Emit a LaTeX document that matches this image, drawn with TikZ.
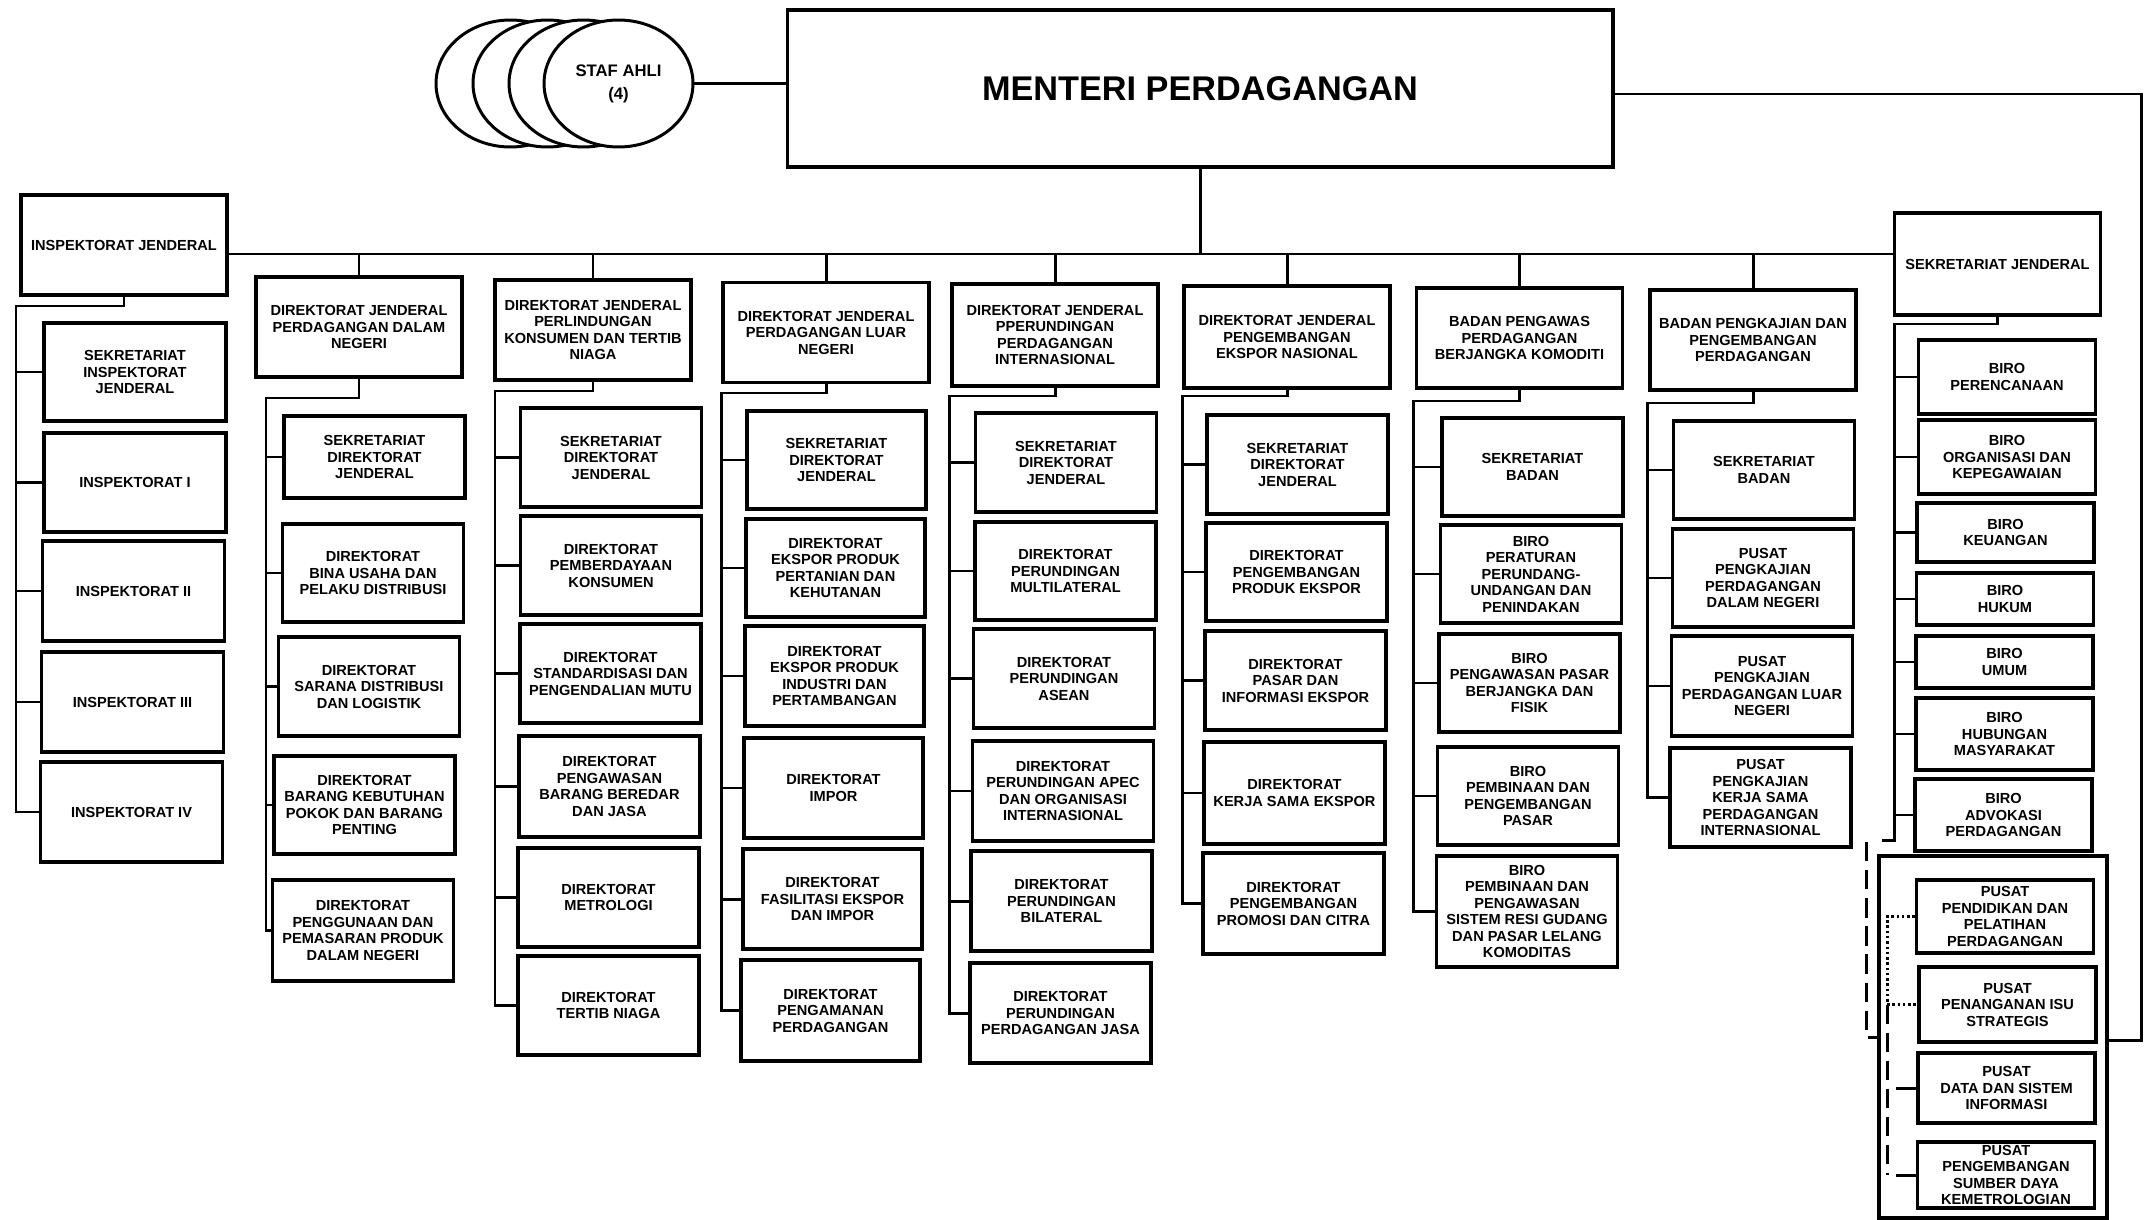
\documentclass[tikz,border=0pt]{standalone}
\usepackage{fontspec}
\setmainfont{Liberation Sans}
\usetikzlibrary{shapes.geometric}

\begin{document}
\begin{tikzpicture}[x=0.02cm, y=-0.02cm]

\tikzstyle{unit}=[rectangle, draw=black, line width=1.8pt, align=center, inner sep=1pt, minimum width=3.62cm, minimum height=1.98cm, font=\bfseries\fontsize{8.3}{9.4}\selectfont]
\tikzstyle{hdr}=[unit, minimum width=4.12cm, minimum height=2cm]
\tikzstyle{biro}=[unit, minimum width=3.54cm]
\tikzstyle{staf}=[ellipse, draw=black, fill=white, line width=1.7pt, minimum width=2.98cm, minimum height=2.54cm, inner sep=0pt, align=center, font=\bfseries\fontsize{9.5}{13}\selectfont]
\tikzstyle{link}=[line width=1.7pt]
\tikzstyle{coord}=[line width=1.7pt, dash pattern=on 11pt off 5pt]
\tikzstyle{dots}=[line width=1.7pt, dash pattern=on 1.4pt off 1.6pt]

\useasboundingbox[fill=white] (0,0) rectangle (2151,1220);

\node[unit, minimum width=16.52cm, minimum height=3.14cm, font=\bfseries\fontsize{19.5}{22}\selectfont] (menteri) at (1200,88.5) {MENTERI PERDAGANGAN};

\node[staf] (staf1) at (510.5,83.5) {};
\node[staf] (staf2) at (547.5,83.5) {};
\node[staf] (staf3) at (583.5,83.5) {};
\node[staf] (staf4) at (618.5,83.5) {STAF AHLI\\(4)};

\node[hdr] (ij) at (124,245) {INSPEKTORAT JENDERAL};
\node[unit, minimum width=3.64cm, minimum height=1.96cm] (ij1) at (135,372) {SEKRETARIAT\\INSPEKTORAT\\JENDERAL};
\node[unit, minimum width=3.64cm] (ij2) at (135,482.5) {INSPEKTORAT I};
\node[unit, minimum width=3.64cm, minimum height=2cm] (ij3) at (133.5,591) {INSPEKTORAT II};
\node[unit, minimum width=3.64cm, minimum height=2cm] (ij4) at (132.5,702) {INSPEKTORAT III};
\node[unit, minimum width=3.64cm, minimum height=2cm] (ij5) at (131.5,812) {INSPEKTORAT IV};

\node[hdr] (dn) at (359,327) {DIREKTORAT JENDERAL\\PERDAGANGAN DALAM\\NEGERI};
\node[unit, minimum height=1.64cm] (dn1) at (374.5,457) {SEKRETARIAT\\DIREKTORAT\\JENDERAL};
\node[unit, minimum height=1.96cm] (dn2) at (373,573) {DIREKTORAT\\BINA USAHA DAN\\PELAKU DISTRIBUSI};
\node[unit] (dn3) at (369,686.5) {DIREKTORAT\\SARANA DISTRIBUSI\\DAN LOGISTIK};
\node[unit, minimum height=1.96cm] (dn4) at (364.5,805) {DIREKTORAT\\BARANG KEBUTUHAN\\POKOK DAN BARANG\\PENTING};
\node[unit, minimum height=2.02cm] (dn5) at (363,930.5) {DIREKTORAT\\PENGGUNAAN DAN\\PEMASARAN PRODUK\\DALAM NEGERI};

\node[hdr, minimum width=3.92cm] (pk) at (593,330) {DIREKTORAT JENDERAL\\PERLINDUNGAN\\KONSUMEN DAN TERTIB\\NIAGA};
\node[unit] (pk1) at (611,457.5) {SEKRETARIAT\\DIREKTORAT\\JENDERAL};
\node[unit] (pk2) at (611,565.5) {DIREKTORAT\\PEMBERDAYAAN\\KONSUMEN};
\node[unit] (pk3) at (610.5,673.5) {DIREKTORAT\\STANDARDISASI DAN\\PENGENDALIAN MUTU};
\node[unit, minimum height=2.02cm] (pk4) at (609.5,786.5) {DIREKTORAT\\PENGAWASAN\\BARANG BEREDAR\\DAN JASA};
\node[unit] (pk5) at (608.5,897.5) {DIREKTORAT\\METROLOGI};
\node[unit] (pk6) at (608.5,1005.5) {DIREKTORAT\\TERTIB NIAGA};

\node[hdr] (pl) at (826,332.5) {DIREKTORAT JENDERAL\\PERDAGANGAN LUAR\\NEGERI};
\node[unit, minimum width=3.58cm, minimum height=1.96cm] (pl1) at (836.5,460) {SEKRETARIAT\\DIREKTORAT\\JENDERAL};
\node[unit, minimum width=3.58cm, minimum height=1.96cm] (pl2) at (835.5,568) {DIREKTORAT\\EKSPOR PRODUK\\PERTANIAN DAN\\KEHUTANAN};
\node[unit, minimum width=3.58cm, minimum height=2cm] (pl3) at (834.5,676) {DIREKTORAT\\EKSPOR PRODUK\\INDUSTRI DAN\\PERTAMBANGAN};
\node[unit, minimum width=3.58cm, minimum height=2cm] (pl4) at (833.5,788) {DIREKTORAT\\IMPOR};
\node[unit, minimum width=3.58cm, minimum height=2cm] (pl5) at (832.5,899) {DIREKTORAT\\FASILITASI EKSPOR\\DAN IMPOR};
\node[unit, minimum width=3.58cm, minimum height=2.02cm] (pl6) at (830.5,1010.5) {DIREKTORAT\\PENGAMANAN\\PERDAGANGAN};

\node[hdr, minimum height=2.04cm] (pp) at (1055,335) {DIREKTORAT JENDERAL\\PPERUNDINGAN\\PERDAGANGAN\\INTERNASIONAL};
\node[unit] (pp1) at (1066,462.5) {SEKRETARIAT\\DIREKTORAT\\JENDERAL};
\node[unit, minimum height=1.96cm] (pp2) at (1065.5,571) {DIREKTORAT\\PERUNDINGAN\\MULTILATERAL};
\node[unit] (pp3) at (1064,678.5) {DIREKTORAT\\PERUNDINGAN\\ASEAN};
\node[unit, minimum height=2cm] (pp4) at (1063,791) {DIREKTORAT\\PERUNDINGAN APEC\\DAN ORGANISASI\\INTERNASIONAL};
\node[unit, minimum height=2cm] (pp5) at (1061.5,901) {DIREKTORAT\\PERUNDINGAN\\BILATERAL};
\node[unit, minimum height=2cm] (pp6) at (1060.5,1013) {DIREKTORAT\\PERUNDINGAN\\PERDAGANGAN JASA};

\node[hdr, minimum height=2.04cm] (pn) at (1287,337) {DIREKTORAT JENDERAL\\PENGEMBANGAN\\EKSPOR NASIONAL};
\node[unit] (pn1) at (1297.5,464.5) {SEKRETARIAT\\DIREKTORAT\\JENDERAL};
\node[unit, minimum height=1.96cm] (pn2) at (1296.5,572) {DIREKTORAT\\PENGEMBANGAN\\PRODUK EKSPOR};
\node[unit] (pn3) at (1295.5,680.5) {DIREKTORAT\\PASAR DAN\\INFORMASI EKSPOR};
\node[unit, minimum height=2.04cm] (pn4) at (1294.5,793) {DIREKTORAT\\KERJA SAMA EKSPOR};
\node[unit, minimum height=2.02cm] (pn5) at (1293.5,903.5) {DIREKTORAT\\PENGEMBANGAN\\PROMOSI DAN CITRA};

\node[hdr] (bb) at (1519.5,338) {BADAN PENGAWAS\\PERDAGANGAN\\BERJANGKA KOMODITI};
\node[unit, minimum height=1.96cm] (bb1) at (1532.5,467) {SEKRETARIAT\\BADAN};
\node[unit, minimum height=1.96cm] (bb2) at (1531,574) {BIRO\\PERATURAN\\PERUNDANG-\\UNDANGAN DAN\\PENINDAKAN};
\node[unit, minimum height=1.96cm] (bb3) at (1529.5,683) {BIRO\\PENGAWASAN PASAR\\BERJANGKA DAN\\FISIK};
\node[unit, minimum height=1.96cm] (bb4) at (1528,796) {BIRO\\PEMBINAAN DAN\\PENGEMBANGAN\\PASAR};
\node[unit, minimum height=2.22cm] (bb5) at (1527,911.5) {BIRO\\PEMBINAAN DAN\\PENGAWASAN\\SISTEM RESI GUDANG\\DAN PASAR LELANG\\KOMODITAS};

\node[hdr] (bp) at (1753,340) {BADAN PENGKAJIAN DAN\\PENGEMBANGAN\\PERDAGANGAN};
\node[unit, minimum height=1.96cm] (bp1) at (1764,470) {SEKRETARIAT\\BADAN};
\node[unit, minimum height=1.96cm] (bp2) at (1763,578) {PUSAT\\PENGKAJIAN\\PERDAGANGAN\\DALAM NEGERI};
\node[unit, minimum height=2cm] (bp3) at (1762,686) {PUSAT\\PENGKAJIAN\\PERDAGANGAN LUAR\\NEGERI};
\node[unit] (bp4) at (1760.5,797.5) {PUSAT\\PENGKAJIAN\\KERJA SAMA\\PERDAGANGAN\\INTERNASIONAL};

\node[hdr, minimum height=2.04cm] (sj) at (1997.5,264) {SEKRETARIAT JENDERAL};
\node[biro, minimum height=1.48cm] (sj1) at (2007,377) {BIRO\\PERENCANAAN};
\node[biro, minimum height=1.48cm] (sj2) at (2007,457) {BIRO\\ORGANISASI DAN\\KEPEGAWAIAN};
\node[biro, minimum height=1.18cm] (sj3) at (2005.5,532.5) {BIRO\\KEUANGAN};
\node[biro, minimum height=1.04cm] (sj4) at (2005,599) {BIRO\\HUKUM};
\node[biro, minimum height=1.04cm] (sj5) at (2004.5,662) {BIRO\\UMUM};
\node[biro, minimum height=1.44cm] (sj6) at (2004.5,734) {BIRO\\HUBUNGAN\\MASYARAKAT};
\node[biro, minimum height=1.44cm] (sj7) at (2003.5,815) {BIRO\\ADVOKASI\\PERDAGANGAN};

\node[rectangle, draw=black, line width=1.8pt, minimum width=4.56cm, minimum height=7.24cm] (pusat) at (1993,1037) {};
\node[biro, minimum height=1.46cm] (pu1) at (2005,916.5) {PUSAT\\PENDIDIKAN DAN\\PELATIHAN\\PERDAGANGAN};
\node[biro, minimum height=1.5cm] (pu2) at (2007.5,1004.5) {PUSAT\\PENANGANAN ISU\\STRATEGIS};
\node[biro, minimum height=1.4cm] (pu3) at (2006.5,1088) {PUSAT\\DATA DAN SISTEM\\INFORMASI};
\node[biro, minimum height=1.32cm] (pu4) at (2006,1175) {PUSAT\\PENGEMBANGAN\\SUMBER DAYA\\KEMETROLOGIAN};

\coordinate (bus) at (1200,254);
\coordinate (ijtop) at (16,306);
\coordinate (dntop) at (266,398);
\coordinate (pktop) at (495,391);
\coordinate (pltop) at (721,393);
\coordinate (pptop) at (949,396);
\coordinate (pntop) at (1182,396);
\coordinate (bbtop) at (1413,401);
\coordinate (bptop) at (1647,403);
\coordinate (sjtop) at (1894,324);
\coordinate (sjend) at (1882,840);
\coordinate (sjdash) at (1866,842);
\coordinate (mtop) at (2141,94);
\coordinate (mright) at (2141,1040);
\coordinate (pujoin) at (1887,1004.5);
\coordinate (pustub) at (1896,1100);

\draw[link] (staf4.east) -- (menteri.west |- staf4.east);
\draw[link] (menteri.south) -- (bus);
\draw[link] (ij.east |- bus) -- (sj.west |- bus);
\draw[link] (dn.north |- bus) -- (dn.north) (pk.north |- bus) -- (pk.north) (pl.north |- bus) -- (pl.north) (pp.north |- bus) -- (pp.north);
\draw[link] (pn.north |- bus) -- (pn.north) (bb.north |- bus) -- (bb.north) (bp.north |- bus) -- (bp.north);
\draw[link] (menteri.east |- mtop) -- (mtop) -- (mright) -- (mright -| pusat.east);

\draw[link] (ij.south) |- (ijtop) -- (ijtop |- ij5.west) -- (ij5.west);
\draw[link] (ijtop |- ij1.west) -- (ij1.west) (ijtop |- ij2.west) -- (ij2.west) (ijtop |- ij3.west) -- (ij3.west) (ijtop |- ij4.west) -- (ij4.west);

\draw[link] (dn.south) |- (dntop) -- (dntop |- dn5.west) -- (dn5.west);
\draw[link] (dntop |- dn1.west) -- (dn1.west) (dntop |- dn2.west) -- (dn2.west) (dntop |- dn3.west) -- (dn3.west) (dntop |- dn4.west) -- (dn4.west);

\draw[link] (pk.south) |- (pktop) -- (pktop |- pk6.west) -- (pk6.west);
\draw[link] (pktop |- pk1.west) -- (pk1.west) (pktop |- pk2.west) -- (pk2.west) (pktop |- pk3.west) -- (pk3.west) (pktop |- pk4.west) -- (pk4.west) (pktop |- pk5.west) -- (pk5.west);

\draw[link] (pl.south) |- (pltop) -- (pltop |- pl6.west) -- (pl6.west);
\draw[link] (pltop |- pl1.west) -- (pl1.west) (pltop |- pl2.west) -- (pl2.west) (pltop |- pl3.west) -- (pl3.west) (pltop |- pl4.west) -- (pl4.west) (pltop |- pl5.west) -- (pl5.west);

\draw[link] (pp.south) |- (pptop) -- (pptop |- pp6.west) -- (pp6.west);
\draw[link] (pptop |- pp1.west) -- (pp1.west) (pptop |- pp2.west) -- (pp2.west) (pptop |- pp3.west) -- (pp3.west) (pptop |- pp4.west) -- (pp4.west) (pptop |- pp5.west) -- (pp5.west);

\draw[link] (pn.south) |- (pntop) -- (pntop |- pn5.west) -- (pn5.west);
\draw[link] (pntop |- pn1.west) -- (pn1.west) (pntop |- pn2.west) -- (pn2.west) (pntop |- pn3.west) -- (pn3.west) (pntop |- pn4.west) -- (pn4.west);

\draw[link] (bb.south) |- (bbtop) -- (bbtop |- bb5.west) -- (bb5.west);
\draw[link] (bbtop |- bb1.west) -- (bb1.west) (bbtop |- bb2.west) -- (bb2.west) (bbtop |- bb3.west) -- (bb3.west) (bbtop |- bb4.west) -- (bb4.west);

\draw[link] (bp.south) |- (bptop) -- (bptop |- bp4.west) -- (bp4.west);
\draw[link] (bptop |- bp1.west) -- (bp1.west) (bptop |- bp2.west) -- (bp2.west) (bptop |- bp3.west) -- (bp3.west);

\draw[link] (sj.south) |- (sjtop) -- (sjtop |- sjend) -- (sjend);
\draw[link] (sjtop |- sj1.west) -- (sj1.west) (sjtop |- sj2.west) -- (sj2.west) (sjtop |- sj3.west) -- (sj3.west) (sjtop |- sj4.west) -- (sj4.west);
\draw[link] (sjtop |- sj5.west) -- (sj5.west) (sjtop |- sj6.west) -- (sj6.west) (sjtop |- sj7.west) -- (sj7.west);
\draw[coord] (sjdash) |- (pusat.west);

\draw[dots] (pu1.west) -| (pujoin) -- (pu2.west);
\draw[coord] (pujoin) -- (pujoin |- pu4.west);
\draw[link] (pustub |- pu3.west) -- (pu3.west) (pustub |- pu4.west) -- (pu4.west);

\end{tikzpicture}
\end{document}
